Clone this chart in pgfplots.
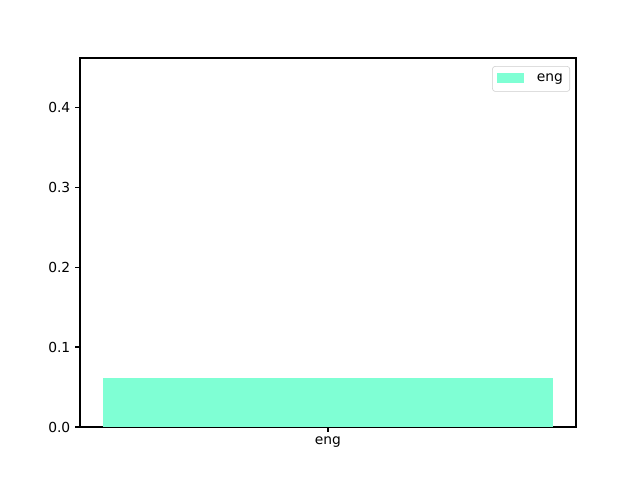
\documentclass[border=0pt]{standalone}
\usepackage{pgfplots}
\pgfplotsset{compat=1.18}
\usepackage{fontspec}
\setmainfont{DejaVu Sans}
\definecolor{aqua}{HTML}{7FFFD4}
\begin{document}
\begin{tikzpicture}
\path[use as bounding box] (-0.8in,-0.53in) rectangle (5.6in,4.27in);
\begin{axis}[
  at={(0,0)}, anchor=south west,
  scale only axis, width=4.96in, height=3.69in,
  xmin=-0.44, xmax=0.44, ymin=0, ymax=0.4615,
  xtick={0}, xticklabels={eng},
  ytick={0,0.1,0.2,0.3,0.4},
  yticklabel style={/pgf/number format/.cd, fixed, fixed zerofill, precision=1},
  /pgf/number format/assume math mode=true,
  tick align=outside, major tick length=3.5pt,
  tick style={black, line width=0.8pt},
  axis line style={line width=0.8pt},
  tick label style={font=\fontsize{10}{12}\selectfont},
  xtick pos=bottom, ytick pos=left,
  legend style={at={(0.988,0.978)}, anchor=north east, draw=black!20, rounded corners=2pt, font=\fontsize{10}{12}\selectfont, inner xsep=3pt, inner ysep=3.5pt},
  legend cell align=left,
  legend image code/.code={\fill[#1, sharp corners] (0cm,-0.11cm) rectangle (0.7cm,0.14cm); \path (0.95cm,0);},
]
\addplot[ybar, bar width=0.8, bar shift=0pt, fill=aqua, draw=none] coordinates {(0,0.061)};
\addlegendentry{eng}
\end{axis}
\end{tikzpicture}
\end{document}
